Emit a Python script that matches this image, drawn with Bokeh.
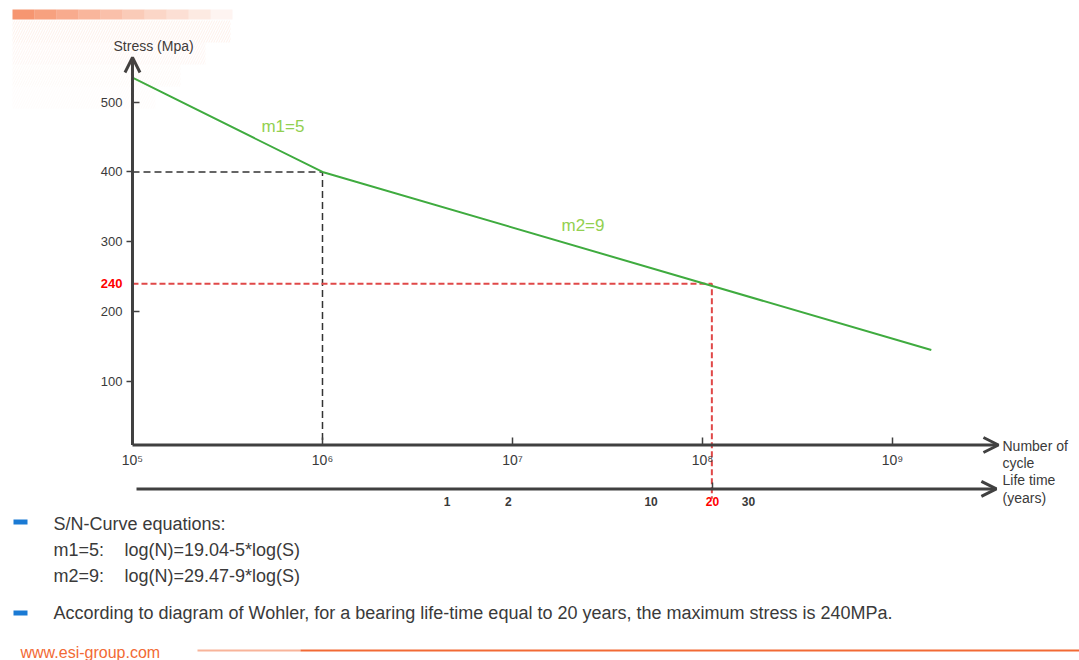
from bokeh.plotting import figure
from bokeh.models import (Range1d, LinearAxis, LogAxis, FixedTicker, LogScale,
                          Label, Arrow, OpenHead, BoxAnnotation)
from bokeh.embed import file_html
from bokeh.resources import INLINE

# ---------------- data ----------------
cycles = [1e5, 1e6, 1.6e9]            # number of cycles N at curve break points
stress = [535, 400, 145]              # stress (MPa)
knee_cycles = 1e6
knee_stress = 400
design_cycles = 1.12e8
design_stress = 240
design_years = 20
stress_ticks = [100, 200, 300, 400, 500]
cycle_ticks = [1e5, 1e6, 1e7, 1e8, 1e9]
cycle_tick_labels = ["10⁵", "10⁶", "10⁷", "10⁸", "10⁹"]
year_ticks = [1, 2, 10, 30]
slope_labels = ["m1=5", "m2=9"]
eq_names = ["m1=5:", "m2=9:"]
eq_texts = ["log(N)=19.04-5*log(S)", "log(N)=29.47-9*log(S)"]

# ---------------- layout / style ----------------
W, H = 1079, 660
X_RANGE = (2.02e4, 9.64e9)       # frame spans the whole canvas
Y_RANGE = (-299.7, 645.6)
YEARS_RANGE = (0.006492, 1256.0)
Y_AXIS_AT = 1e5                  # N value where the stress axis stands
X_AXIS_AT = 9                    # stress level where the N axis is drawn
YEARS_AXIS_AT = -54
RED_DROP_END = -68
Y_ARROW_END = 564
X_ARROW_END = 3.61e9
YEARS_ARROW = (1.05e5, 3.52e9)

FONT = "Liberation Sans"
AX = "#404040"
TXT = "#3a3a3a"
GREEN = "#3fab3f"
LGREEN = "#92d050"
RED = "#ff0000"
RED_DASH = "#e04848"
ORANGE = "#f26a35"
BLUE = "#1a7ad4"

p = figure(width=W, height=H, x_axis_type="log",
           x_range=Range1d(*X_RANGE), y_range=Range1d(*Y_RANGE),
           x_axis_location=None, y_axis_location=None,
           toolbar_location=None, output_backend="svg",
           min_border=0, background_fill_color="white", border_fill_color="white",
           outline_line_color=None)
p.grid.visible = False
p.extra_x_ranges = {"years": Range1d(*YEARS_RANGE)}
p.extra_x_scales = {"years": LogScale()}


def style(ax, size, color=TXT, bold=False):
    ax.major_label_text_font = FONT
    ax.major_label_text_font_size = size
    ax.major_label_text_color = color
    ax.major_label_text_font_style = "bold" if bold else "normal"
    ax.minor_tick_line_color = None
    ax.axis_line_color = None
    ax.major_tick_line_color = AX
    ax.major_tick_line_width = 1.5


# stress axis (ticks drawn partly outward, partly inward as in the sketch)
inward = [t for t in stress_ticks if t in (200, 500)]
outward = [t for t in stress_ticks if t not in inward]
ya = LinearAxis(fixed_location=Y_AXIS_AT, ticker=FixedTicker(ticks=outward),
                major_tick_out=6, major_tick_in=0, major_label_standoff=4)
style(ya, "13px")
p.add_layout(ya, "left")
yb = LinearAxis(fixed_location=Y_AXIS_AT, ticker=FixedTicker(ticks=inward),
                major_tick_out=0, major_tick_in=7, major_label_standoff=10)
style(yb, "13px")
p.add_layout(yb, "left")
yr = LinearAxis(fixed_location=Y_AXIS_AT, ticker=FixedTicker(ticks=[design_stress]),
                major_tick_out=0, major_tick_in=0, major_label_standoff=10)
style(yr, "13px", RED, True)
yr.major_tick_line_color = None
p.add_layout(yr, "left")

# number of cycles axis
xa = LogAxis(fixed_location=X_AXIS_AT, ticker=FixedTicker(ticks=cycle_ticks),
             major_label_overrides=dict(zip(cycle_ticks, cycle_tick_labels)),
             major_tick_in=7, major_tick_out=0, major_label_standoff=7)
style(xa, "14px")
p.add_layout(xa, "below")

# life-time axis (years)
ta = LogAxis(x_range_name="years", fixed_location=YEARS_AXIS_AT,
             ticker=FixedTicker(ticks=year_ticks),
             major_label_overrides={t: str(t) for t in year_ticks},
             major_tick_in=0, major_tick_out=0, major_label_standoff=8)
style(ta, "12px", TXT, True)
ta.major_tick_line_color = None
p.add_layout(ta, "below")
tr = LogAxis(x_range_name="years", fixed_location=YEARS_AXIS_AT,
             ticker=FixedTicker(ticks=[design_years]),
             major_label_overrides={design_years: str(design_years)},
             major_tick_in=6, major_tick_out=0, major_label_standoff=8)
style(tr, "12px", RED, True)
p.add_layout(tr, "below")


# axis lines with arrow heads
def head():
    return OpenHead(size=15, line_width=3, line_color=AX)


p.add_layout(Arrow(x_start=Y_AXIS_AT, y_start=X_AXIS_AT, x_end=Y_AXIS_AT, y_end=Y_ARROW_END,
                   end=head(), line_width=3, line_color=AX))
p.add_layout(Arrow(x_start=Y_AXIS_AT, y_start=X_AXIS_AT, x_end=X_ARROW_END, y_end=X_AXIS_AT,
                   end=head(), line_width=3, line_color=AX))
p.add_layout(Arrow(x_start=YEARS_ARROW[0], y_start=YEARS_AXIS_AT, x_end=YEARS_ARROW[1],
                   y_end=YEARS_AXIS_AT, end=head(), line_width=3, line_color=AX))

# reference dashed lines
p.line([Y_AXIS_AT, knee_cycles, knee_cycles], [knee_stress, knee_stress, X_AXIS_AT],
       line_color="#333333", line_width=1.5, line_dash="7 4")
p.line([Y_AXIS_AT, design_cycles, design_cycles], [design_stress, design_stress, RED_DROP_END],
       line_color=RED_DASH, line_width=2, line_dash="6 3")

# S/N curve
p.line(cycles, stress, line_color=GREEN, line_width=2)

# slope labels (data anchored)
p.add_layout(Label(x=4.77e5, y=465, text=slope_labels[0], text_font=FONT, text_font_size="17px",
                   text_color=LGREEN, text_baseline="middle"))
p.add_layout(Label(x=1.81e7, y=323, text=slope_labels[1], text_font=FONT, text_font_size="17px",
                   text_color=LGREEN, text_baseline="middle"))


# page-positioned slide texts (screen units: from frame bottom-left, y up)
def page_label(text, px, py, size, color=TXT, bold=False, baseline="middle"):
    p.add_layout(Label(x=px, y=H - py, x_units="screen", y_units="screen", text=text,
                       text_font=FONT, text_font_size=size, text_color=color,
                       text_font_style="bold" if bold else "normal",
                       text_baseline=baseline, text_align="left"))


def page_box(l, r, t, b, color, alpha, **kw):
    p.add_layout(BoxAnnotation(left=l, right=r, top=H - t, bottom=H - b,
                               left_units="screen", right_units="screen",
                               top_units="screen", bottom_units="screen",
                               fill_color=color, fill_alpha=alpha, line_color=None, **kw))


page_label("Stress  (Mpa)", 113, 45, "14px")
page_label("Number  of", 1002, 445, "14px")
page_label("cycle", 1002, 462, "14px")
page_label("Life time", 1002, 479, "14px")
page_label("(years)", 1002, 497, "14px")

page_box(13, 27, 519, 524, BLUE, 1.0)
page_box(13, 27, 610, 615, BLUE, 1.0)
page_label("S/N-Curve equations:", 53, 523, "18px")
page_label(eq_names[0], 53, 549, "18px")
page_label(eq_texts[0], 124, 549, "18px")
page_label(eq_names[1], 53, 575, "18px")
page_label(eq_texts[1], 124, 575, "18px")
page_label("According to diagram of Wohler, for a bearing life-time equal to 20 years, "
           "the maximum stress is 240MPa.", 53, 612, "18px")
page_label("www.esi-group.com", 20, 643, "16px", ORANGE, baseline="top")

# bottom rule
p.add_layout(Arrow(x_start=197, y_start=H - 650, x_end=300, y_end=H - 650,
                   start_units="screen", end_units="screen", end=None,
                   line_color=ORANGE, line_alpha=0.5, line_width=2))
p.add_layout(Arrow(x_start=300, y_start=H - 650, x_end=1079, y_end=H - 650,
                   start_units="screen", end_units="screen", end=None,
                   line_color=ORANGE, line_width=2))

# top-left decorative band, fading to the right and downward
for i in range(10):
    page_box(12 + 22 * i, 34 + 22 * i, 9, 19, ORANGE, 0.7 * (1 - i / 10))
for j, a in enumerate([0.10, 0.07, 0.045, 0.025]):
    page_box(12, 230 - 25 * j, 20 + 22 * j, 42 + 22 * j, ORANGE, 0.0,
             hatch_pattern="/", hatch_color=ORANGE, hatch_alpha=a, hatch_scale=5)

open("out.html", "w").write(file_html(p, INLINE))
